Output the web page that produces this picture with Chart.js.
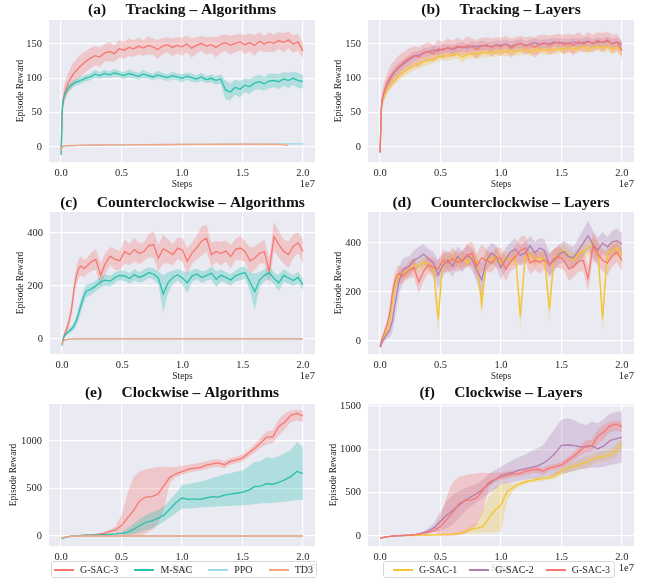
<!DOCTYPE html>
<html lang="en">
<head>
<meta charset="UTF-8">
<title>Episode reward curves</title>
<script src="https://cdn.jsdelivr.net/npm/chart.js@4.4.1/dist/chart.umd.min.js"></script>
<style>
  html, body { margin: 0; padding: 0; background: #fff; }
  body { width: 654px; height: 580px; position: relative; overflow: hidden; font-family: "Liberation Serif", "Times New Roman", serif; }
  canvas { position: absolute; }
  .legend { position: absolute; top: 561px; height: 17px; box-sizing: border-box; border: 1px solid #d6d6d6; border-radius: 3px;
            background: rgba(255,255,255,0.8); display: flex; align-items: center; justify-content: space-between;
            font-size: 10px; color: #262626; }
  .legend .item { display: flex; align-items: center; white-space: nowrap; }
  .legend .swatch { display: inline-block; width: 20px; height: 0; border-top: 2px solid; margin-right: 6px; }
</style>
</head>
<body>
<canvas id="pa" width="327" height="190" style="left:0;top:0"></canvas>
<canvas id="pb" width="327" height="190" style="left:327px;top:0"></canvas>
<canvas id="pc" width="327" height="192" style="left:0;top:190px"></canvas>
<canvas id="pd" width="327" height="192" style="left:327px;top:190px"></canvas>
<canvas id="pe" width="327" height="192" style="left:0;top:382px"></canvas>
<canvas id="pf" width="327" height="192" style="left:327px;top:382px"></canvas>
<div class="legend" id="legE" style="left:51px;width:266px;padding:0 3px 0 2px"></div>
<div class="legend" id="legF" style="left:383px;width:232px;padding:0 4px 0 9px"></div>
<script>
// ---- data (steps in units of 1e7) ----
const stepsDense = [0,0.01,0.02,0.04,0.06,0.08,0.10,0.12,0.14,0.16,0.18,0.20,0.24,0.28,0.32,0.36,0.40,0.44,0.48,0.52,
  0.56,0.60,0.64,0.68,0.72,0.76,0.80,0.84,0.88,0.92,0.96,1.00,1.04,1.08,1.12,1.16,1.20,1.24,1.28,1.32,
  1.36,1.40,1.44,1.48,1.52,1.56,1.60,1.64,1.68,1.72,1.76,1.80,1.84,1.88,1.92,1.96,2.00];
const stepsCoarse = [0,0.05,0.10,0.15,0.20,0.25,0.30,0.35,0.40,0.45,0.50,0.55,0.60,0.65,0.70,0.75,0.80,0.85,0.90,0.95,
  1.00,1.05,1.10,1.15,1.20,1.25,1.30,1.35,1.40,1.45,1.50,1.55,1.60,1.65,1.70,1.75,1.80,1.85,1.90,1.95,2.00];

const xTicks = [0, 0.5, 1.0, 1.5, 2.0];

// Tracking
const trackG3 = [-8,55,72,85,94,100,106,110,114,118, 121,124,129,133,131,137,139,136,143,141,
  145,143,147,144,148,146,142,147,149,145, 148,146,150,144,148,151,147,149,145,150,
  152,148,151,153,149,152,148,154,150,153, 151,155,152,156,150,153,140];
const trackG3Sd = [3,8,12,14,15,16,17,16,17,16, 16,15,15,14,14,13,14,12,13,12,
  13,12,12,11,13,12,14,12,11,13, 12,13,12,14,12,11,13,12,15,13,
  12,14,13,12,14,13,15,13,12,14, 13,12,14,12,13,12,11];
const trackMSAC = [-12,55,70,80,86,89,92,94,95,97, 98,100,102,106,104,107,105,108,106,104,
  107,105,103,106,104,102,105,103,101,104, 102,100,103,101,99,102,98,100,97,99,
  83,80,87,84,90,88,93,95,92,96, 97,95,99,97,100,97,95];
const trackMSACSd = [3,6,6,5,5,5,5,5,5,5, 5,5,5,6,5,6,5,6,5,5,
  6,5,5,6,5,5,6,5,5,6, 5,6,5,6,5,6,5,6,6,7,
  14,12,11,12,10,11,10,11,10,11, 10,11,10,11,10,11,10];
const trackPPO = [-6,0,1,1.5,2,2,2,2,2.2,2.2, 2.3,2.3,2.5,2.5,2.6,2.7,2.8,2.8,3,3,
  3,3.1,3.1,3.2,3.2,3.3,3.3,3.4,3.4,3.5, 3.5,3.5,3.6,3.6,3.7,3.7,3.8,3.8,3.8,3.9,
  3.9,4,4,4,4,4.1,4.1,4.1,4.2,4.2, 4.2,4.3,4.3,4.3,4.3,4.4,4.4];
const trackTD3 = [-5,0,1,1.5,1.8,2,2,2.2,2.3,2.3, 2.5,2.5,2.6,2.8,2.8,3,3,3,3.1,3.1,
  3.2,3.3,3.3,3.2,3.4,3.5,3.3,3.5,3.6,3.4, 3.6,3.7,3.5,3.7,3.8,3.6,3.8,3.8,3.9,3.7,
  3.9,4,3.8,4,4,3.9,4.1,4,3.9,4, 3.8,3.7,3.4,2,null,null,null];
const trackG1 = [-8,55,68,78,85,90,94,98,101,104, 107,110,114,118,121,124,126,128,131,133,
  132,134,135,131,134,136,135,138,136,139, 137,140,138,141,139,140,142,139,141,143,
  140,142,141,144,142,145,143,144,146,143, 145,147,144,146,143,145,141];
const trackG1Sd = [3,6,7,7,7,7,7,7,7,7, 7,7,7,6,7,6,7,6,7,6,
  7,6,7,8,6,7,6,7,6,7, 6,7,6,7,6,7,6,7,6,7,
  6,7,6,7,6,7,6,7,6,7, 6,7,6,7,8,7,9];
const trackG2 = [-8,58,72,83,92,98,104,109,113,116, 119,122,127,132,134,137,139,141,140,143,
  144,142,145,146,144,147,146,148,147,146, 149,148,150,147,149,151,148,150,152,149,
  151,150,153,151,152,150,153,151,152,154, 151,153,152,154,151,153,150];
const trackG2Sd = [3,6,7,8,8,8,8,8,8,7, 7,7,7,7,6,7,6,7,6,7,
  6,7,6,7,6,7,6,7,6,7, 6,7,6,7,6,7,6,7,6,7,
  6,7,6,7,6,7,6,7,6,7, 6,7,6,7,6,7,6];

// Counterclockwise
const ccwG3 = [-20,0,15,40,70,115,190,240,268,275, 265,272,290,300,240,285,312,300,295,330,
  318,337,322,330,352,356,305,340,330,318, 343,335,293,325,345,370,380,318,330,322,
  332,310,338,343,330,295,305,324,330,255, 387,356,330,318,350,362,330];
const ccwG3Sd = [5,8,10,15,20,25,30,35,35,35, 35,30,35,40,45,40,35,40,35,45,
  40,45,40,35,45,50,50,55,45,40, 40,45,50,40,45,55,50,45,40,45,
  40,45,40,45,40,50,45,40,45,50, 55,50,45,50,45,40,45];
const ccwMSAC = [-25,0,12,22,30,38,50,70,100,130, 160,180,188,200,215,222,218,232,240,238,
  228,242,232,240,250,245,230,170,212,232, 242,230,212,238,245,232,240,248,225,240,
  232,222,238,245,250,215,178,222,240,250, 228,212,240,230,220,232,205];
const ccwMSACSd = [5,5,6,8,10,12,15,20,25,25, 25,25,22,20,20,22,20,20,18,20,
  20,22,20,22,20,22,25,70,40,25, 22,25,40,22,20,22,20,25,30,22,
  20,22,20,25,22,35,70,30,22,25, 22,30,25,22,20,22,20];
const ccwPPO = [-22,-10,-5,-3,-2,-1,-1,-1,0,0, 0,0,0,0,0,0,0,0,0,0,
  0,0,0,0,0,0,0,0,0,0, 0,0,0,0,0,0,0,0,0,0,
  0,0,0,0,0,0,0,0,0,0, 0,0,0,0,0,0,0];
const ccwTD3 = [-20,-8,-4,-2,-1,-1,0,0,0,0, 0,0,0,0,0,0,0,0,0,0,
  0,0,0,0,0,0,0,0,0,0, 0,0,0,0,0,0,0,0,0,0,
  0,0,0,0,0,0,0,0,0,0, 0,0,0,0,0,0,0];
const ccwG1 = [-25,-10,5,25,40,80,150,210,250,268, 272,280,290,310,305,320,315,300,90,330,
  320,340,325,338,320,345,330,150,340,330, 350,320,340,330,345,100,345,350,330,340,
  335,130,345,355,370,350,330,355,365,380, 390,375,90,360,370,380,350];
const ccwG1Sd = [5,8,10,12,15,20,25,25,25,22, 20,22,20,25,22,25,30,25,60,35,
  25,30,25,30,25,30,25,50,30,25, 30,25,30,25,30,60,30,25,30,25,
  30,60,30,25,30,25,30,25,30,35, 30,35,60,30,35,30,35];
const ccwG2 = [-25,-15,0,15,30,45,80,140,200,250, 280,295,305,330,340,355,335,320,270,310,
  330,305,345,325,350,335,290,250,330,360, 345,300,335,365,375,350,360,390,360,380,
  370,310,330,355,365,345,340,370,400,430, 395,370,400,385,405,410,395];
const ccwG2Sd = [5,8,10,15,20,30,45,60,60,55, 50,45,40,40,45,40,40,45,60,45,
  40,45,40,45,40,45,50,70,45,40, 45,50,45,40,45,40,45,40,45,40,
  45,50,45,40,45,50,45,50,55,60, 55,50,45,40,45,50,45];

// Clockwise
const cwG3 = [-25,-10,0,5,8,12,18,28,45,65, 110,190,270,370,410,415,440,530,620,655,
  678,700,715,720,745,760,770,750,785,800, 820,870,920,980,1040,1040,1150,1200,1270,1290, 1265];
const cwG3Lo = [-30,-14,-4,1,4,7,11,18,28,40, 10,0,0,5,30,60,130,280,560,620,
  645,665,680,690,705,720,730,710,750,765, 785,835,875,925,965,975,1060,1120,1200,1215, 1200];
const cwG3Hi = [-20,-6,4,9,12,17,26,40,65,100, 220,450,620,680,700,715,725,730,725,730,
  740,750,760,770,790,800,810,790,820,835, 860,905,965,1035,1105,1110,1230,1290,1320,1330, 1320];
const cwMSAC = [-30,-10,0,5,8,10,12,15,18,22, 28,40,70,110,145,160,185,220,285,350,
  400,385,390,385,400,415,410,430,440,450, 462,480,520,525,550,545,565,590,625,680, 660];
const cwMSACLo = [-35,-14,-4,1,4,6,8,10,12,15, 18,10,20,40,60,80,110,150,200,240,
  290,290,295,300,305,305,310,315,315,320, 325,330,335,345,345,350,355,360,370,380, 380];
const cwMSACHi = [-25,-6,4,9,12,14,16,20,24,30, 40,80,130,180,220,250,270,310,380,450,
  540,545,560,570,590,610,630,650,660,680, 690,730,780,790,830,820,840,870,905,990, 940];
const cwPPO = [-22,-8,-2,0,0,0,0,0,0,0, 0,0,0,0,0,0,0,0,0,0,
  0,0,0,0,0,0,0,0,0,0, 0,0,0,0,0,0,0,0,0,0, 0];
const cwTD3 = [-20,-6,-1,0,0,0,0,0,0,0, 0,0,0,0,0,0,0,0,0,0,
  0,0,0,0,0,0,0,0,0,0, 0,0,0,0,0,0,0,0,0,0, 0];
const cwG1 = [-25,-10,-2,2,4,6,8,10,12,13, 15,18,22,30,45,75,90,105,210,300,
  360,510,560,600,625,640,655,665,670,700, 750,785,800,830,850,880,910,920,935,980, 1060];
const cwG1Lo = [-30,-14,-6,-2,0,2,4,5,6,7, 8,10,12,18,25,30,30,35,40,40,
  50,400,520,570,600,615,625,635,645,660, 700,730,750,770,780,820,850,860,880,910, 980];
const cwG1Hi = [-20,-6,2,6,8,10,12,15,18,20, 22,26,32,45,75,120,160,300,450,570,
  610,620,600,630,650,665,685,695,700,740, 800,840,850,890,920,940,970,980,1000,1050, 1130];
const cwG2 = [-25,-10,-2,3,6,10,18,35,60,100, 170,240,295,350,410,450,490,540,600,650,
  700,720,735,760,775,790,810,840,890,960, 1045,1050,1045,1030,1025,1040,1005,1040,1100,1120, 1140];
const cwG2Lo = [-30,-14,-6,-1,1,4,10,20,30,50, 60,90,130,200,280,340,390,440,490,540,
  600,610,620,640,650,660,670,680,690,700, 720,730,750,770,780,790,790,800,820,830, 850];
const cwG2Hi = [-20,-6,2,7,11,16,26,50,90,160, 280,400,480,520,550,580,600,650,720,760,
  800,840,880,910,940,980,1010,1050,1150,1250, 1340,1360,1340,1300,1280,1320,1300,1350,1410,1430, 1440];

const colors = {
  'G-SAC-1': '#f2c531',
  'G-SAC-2': '#b07fb2',
  'G-SAC-3': '#f7776f',
  'M-SAC': '#2bbfad',
  'PPO': '#9fd8ea',
  'TD3': '#f8a47f'
};

// ---- plugins ----
const panelBg = {
  id: 'panelBg',
  beforeDraw(chart) {
    const a = chart.chartArea, c = chart.ctx;
    c.save();
    c.fillStyle = '#eaeaf2';
    c.fillRect(a.left, a.top, a.right - a.left, a.bottom - a.top);
    c.restore();
  }
};
const offsetText = {
  id: 'offsetText',
  afterDraw(chart) {
    const a = chart.chartArea, c = chart.ctx;
    c.save();
    c.font = '10.5px "Liberation Serif"';
    c.fillStyle = '#262626';
    c.textAlign = 'right';
    c.textBaseline = 'alphabetic';
    c.fillText('1e7', a.right, a.bottom + 25);
    c.restore();
  }
};

Chart.defaults.font.family = '"Liberation Serif", "Times New Roman", serif';
Chart.defaults.color = '#262626';

function rgba(hex, a) {
  const n = parseInt(hex.slice(1), 16);
  return 'rgba(' + (n >> 16) + ',' + ((n >> 8) & 255) + ',' + (n & 255) + ',' + a + ')';
}

function toPts(steps, arr) {
  return steps.map((x, i) => ({x: x, y: arr[i]}));
}

function makeSets(steps, series) {
  const out = [];
  const n = series.length;
  series.forEach((s, k) => {
    let lo = s.lo, hi = s.hi;
    if (!lo) {
      const sd = i => Array.isArray(s.sd) ? s.sd[i] : s.sd;
      lo = s.mean.map((m, i) => m === null ? null : m - sd(i));
      hi = s.mean.map((m, i) => m === null ? null : m + sd(i));
    }
    const col = colors[s.name];
    out.push({data: toPts(steps, lo), borderWidth: 0, pointRadius: 0, fill: false, order: 100 + n - k});
    out.push({data: toPts(steps, hi), borderWidth: 0, pointRadius: 0, fill: '-1',
              backgroundColor: rgba(col, 0.3), order: 100 + n - k});
    out.push({label: s.name, data: toPts(steps, s.mean), borderColor: col, borderWidth: 1.3,
              pointRadius: 0, fill: false, order: n - k});
  });
  return out;
}

function panel(id, p) {
  new Chart(document.getElementById(id), {
    type: 'line',
    data: {datasets: makeSets(p.steps, p.series)},
    plugins: [panelBg, offsetText],
    options: {
      responsive: false,
      animation: false,
      layout: {padding: {top: 0, right: p.padRight, bottom: 0, left: 0}},
      plugins: {
        legend: {display: false},
        tooltip: {enabled: false},
        title: {display: true, text: p.title, fullSize: false, color: '#111',
                font: {size: 15.5, weight: 'bold'}, padding: p.titlePad}
      },
      scales: {
        x: {
          type: 'linear', min: -0.1, max: 2.1,
          afterBuildTicks: s => { s.ticks = xTicks.map(v => ({value: v})); },
          afterFit: s => { s.height = 28; },
          grid: {color: '#ffffff', lineWidth: 1.2, drawTicks: false},
          border: {display: false},
          ticks: {autoSkip: false, maxRotation: 0, padding: 5, font: {size: 10.5},
                  callback: v => v.toFixed(1)},
          title: {display: true, text: 'Steps', font: {size: 9.5}, padding: {top: 0, bottom: 0}}
        },
        y: {
          min: p.yMin, max: p.yMax,
          afterBuildTicks: s => { s.ticks = p.yTicks.map(v => ({value: v})); },
          afterFit: s => { s.width = p.yWidth; },
          grid: {color: '#ffffff', lineWidth: 1.2, drawTicks: false},
          border: {display: false},
          ticks: {autoSkip: false, padding: 7, font: {size: 10.5}, callback: v => String(v)},
          title: {display: true, text: 'Episode Reward', font: {size: 9.5}, padding: {top: p.yTitlePad, bottom: 0}}
        }
      }
    }
  });
}

const algoNames = ['G-SAC-3', 'M-SAC', 'PPO', 'TD3'];
const layerNames = ['G-SAC-1', 'G-SAC-2', 'G-SAC-3'];

panel('pa', {
  title: '(a)     Tracking \u2013 Algorithms', titlePad: {top: 1, bottom: 0.4},
  steps: stepsDense, yMin: -22, yMax: 185, yTicks: [0, 50, 100, 150], yWidth: 49, padRight: 12, yTitlePad: 15,
  series: [
    {name: 'G-SAC-3', mean: trackG3, sd: trackG3Sd},
    {name: 'M-SAC', mean: trackMSAC, sd: trackMSACSd},
    {name: 'PPO', mean: trackPPO, sd: 1},
    {name: 'TD3', mean: trackTD3, sd: 1}
  ]
});
panel('pb', {
  title: '(b)     Tracking \u2013 Layers', titlePad: {top: 1, bottom: 0.4},
  steps: stepsDense, yMin: -22, yMax: 185, yTicks: [0, 50, 100, 150], yWidth: 41, padRight: 20, yTitlePad: 6,
  series: [
    {name: 'G-SAC-1', mean: trackG1, sd: trackG1Sd},
    {name: 'G-SAC-2', mean: trackG2, sd: trackG2Sd},
    {name: 'G-SAC-3', mean: trackG3, sd: trackG3Sd}
  ]
});
panel('pc', {
  title: '(c)     Counterclockwise \u2013 Algorithms', titlePad: {top: 3.4, bottom: 0},
  steps: stepsDense, yMin: -57, yMax: 479, yTicks: [0, 200, 400], yWidth: 50, padRight: 12, yTitlePad: 15,
  series: [
    {name: 'G-SAC-3', mean: ccwG3, sd: ccwG3Sd},
    {name: 'M-SAC', mean: ccwMSAC, sd: ccwMSACSd},
    {name: 'PPO', mean: ccwPPO, sd: 2},
    {name: 'TD3', mean: ccwTD3, sd: 2}
  ]
});
panel('pd', {
  title: '(d)     Counterclockwise \u2013 Layers', titlePad: {top: 3.4, bottom: 0},
  steps: stepsDense, yMin: -53, yMax: 527, yTicks: [0, 200, 400], yWidth: 41, padRight: 20, yTitlePad: 6,
  series: [
    {name: 'G-SAC-1', mean: ccwG1, sd: ccwG1Sd},
    {name: 'G-SAC-2', mean: ccwG2, sd: ccwG2Sd},
    {name: 'G-SAC-3', mean: ccwG3, sd: ccwG3Sd}
  ]
});
panel('pe', {
  title: '(e)     Clockwise \u2013 Algorithms', titlePad: {top: 2, bottom: 1.4},
  steps: stepsCoarse, yMin: -105, yMax: 1389, yTicks: [0, 500, 1000], yWidth: 49, padRight: 12, yTitlePad: 7.5,
  series: [
    {name: 'G-SAC-3', mean: cwG3, lo: cwG3Lo, hi: cwG3Hi},
    {name: 'M-SAC', mean: cwMSAC, lo: cwMSACLo, hi: cwMSACHi},
    {name: 'PPO', mean: cwPPO, sd: 4},
    {name: 'TD3', mean: cwTD3, sd: 4}
  ]
});
panel('pf', {
  title: '(f)     Clockwise \u2013 Layers', titlePad: {top: 2, bottom: 1.4},
  steps: stepsCoarse, yMin: -115, yMax: 1523, yTicks: [0, 500, 1000, 1500], yWidth: 41, padRight: 20, yTitlePad: 1,
  series: [
    {name: 'G-SAC-1', mean: cwG1, lo: cwG1Lo, hi: cwG1Hi},
    {name: 'G-SAC-2', mean: cwG2, lo: cwG2Lo, hi: cwG2Hi},
    {name: 'G-SAC-3', mean: cwG3, lo: cwG3Lo, hi: cwG3Hi}
  ]
});

function legend(id, names) {
  const box = document.getElementById(id);
  names.forEach(nm => {
    const item = document.createElement('span');
    item.className = 'item';
    const sw = document.createElement('span');
    sw.className = 'swatch';
    sw.style.borderTopColor = colors[nm];
    item.appendChild(sw);
    item.appendChild(document.createTextNode(nm));
    box.appendChild(item);
  });
}
legend('legE', algoNames);
legend('legF', layerNames);
</script>
</body>
</html>
